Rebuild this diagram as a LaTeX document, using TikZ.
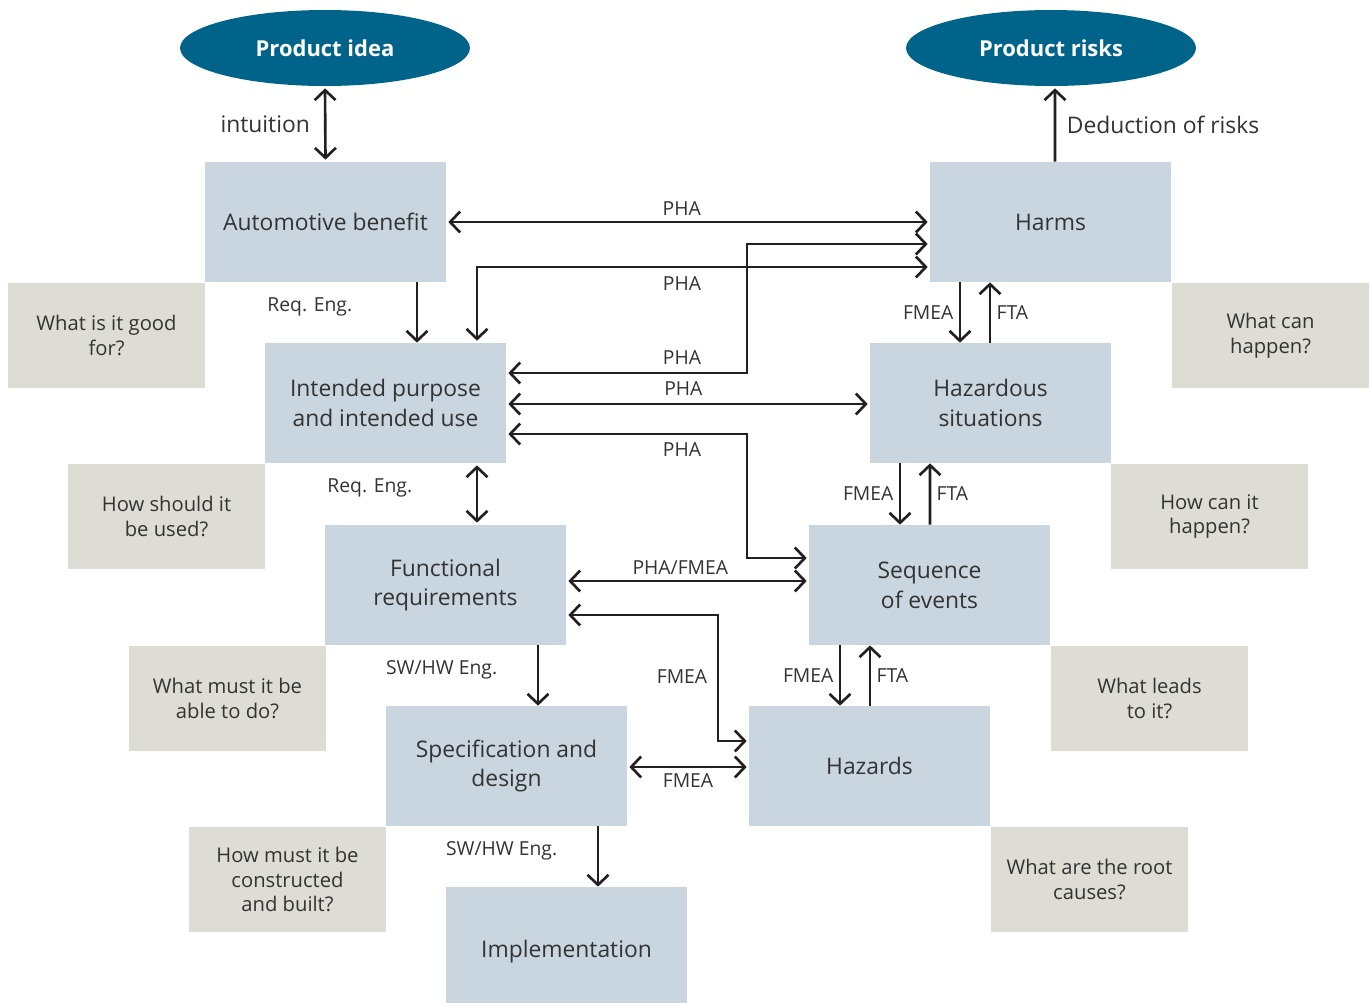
\documentclass[tikz,border=0pt]{standalone}
\usepackage{fontspec}
\setmainfont{Open Sans}
\usepackage{xcolor}
\usetikzlibrary{shapes,arrows,positioning,calc,arrows.meta}

\definecolor{boxblue}{HTML}{C9D6DF}
\definecolor{boxgrey}{HTML}{DDDDD5}
\definecolor{petrol}{HTML}{00648A}
\definecolor{textgrey}{HTML}{333333}
\definecolor{linegrey}{HTML}{231F20}

\begin{document}
\begin{tikzpicture}[x=0.02cm, y=-0.02cm,
    >={Straight Barb[length=0.2cm, width=0.42cm]},
    every node/.style={text=textgrey},
    stage/.style={fill=boxblue, minimum width=4.82cm, minimum height=2.4cm, align=center, inner sep=0pt, font=\fontsize{13}{17}\selectfont},
    question/.style={fill=boxgrey, minimum width=3.94cm, minimum height=2.1cm, align=center, inner sep=0pt, font=\fontsize{11.5}{14}\selectfont},
    goal/.style={ellipse, fill=petrol, minimum width=5.8cm, minimum height=1.52cm, text=white, font=\fontsize{12.5}{15}\selectfont\bfseries},
    link/.style={draw=linegrey, line width=1.5pt},
    tag/.style={font=\fontsize{11}{13}\selectfont, inner sep=2pt},
    bigtag/.style={font=\fontsize{13}{16}\selectfont, inner sep=2pt}]

    \useasboundingbox (0,0) rectangle (1372,1002);

    % goals
    \node[goal] (idea) at (325,48) {Product idea};
    \node[goal] (risks) at (1051,48) {Product risks};

    % development side
    \node[stage] (benefit) at (325.5,222) {Automotive benefit};
    \node[stage] (purpose) at (385.5,403) {Intended purpose\\and intended use};
    \node[stage] (funcreq) at (445.5,585) {Functional\\requirements};
    \node[stage] (spec) at (506.5,766) {Specification and\\design};
    \node[stage, minimum height=2.6cm] (impl) at (566.5,952) {Implementation};

    % risk side
    \node[stage] (harms) at (1050.5,222) {Harms};
    \node[stage] (hazsit) at (990.5,403) {Hazardous\\situations};
    \node[stage] (seq) at (929.5,585) {Sequence\\of events};
    \node[stage] (hazards) at (869.5,766) {Hazards};

    % questions
    \node[question] (qgood) at (106.5,335.5) {What is it good\\for?};
    \node[question] (qused) at (166.5,516.5) {How should it\\be used?};
    \node[question] (qable) at (227.5,698.5) {What must it be\\able to do?};
    \node[question] (qbuilt) at (287.5,879.5) {How must it be\\constructed\\and built?};
    \node[question] (qhappen) at (1270.5,335.5) {What can\\happen?};
    \node[question] (qhow) at (1209.5,516.5) {How can it\\happen?};
    \node[question] (qleads) at (1149.5,698.5) {What leads\\to it?};
    \node[question] (qroot) at (1089.5,879.5) {What are the root\\causes?};

    % vertical links
    \draw[link, <->] ($(idea.south)+(0,2)$) -- ($(benefit.north)+(0,-2)$) node[midway, bigtag, left=6pt] {intuition};
    \draw[link, ->] ($(harms.north)+(4.5,0)$) -- ($(risks.south)+(4,2)$) node[midway, bigtag, right=4pt] {Deduction of risks};
    \draw[link, ->] ($(benefit.south)+(91.5,0)$) -- ($(purpose.north)+(31.5,0)$) node[pos=0.4, tag, left=1.2cm] {Req. Eng.};
    \draw[link, <->] ($(purpose.south)+(91.5,2)$) -- ($(funcreq.north)+(31.5,-2)$) node[pos=0.4, tag, left=1.2cm] {Req. Eng.};
    \draw[link, ->] ($(funcreq.south)+(92.5,0)$) -- ($(spec.north)+(31.5,0)$) node[pos=0.4, tag, left=0.72cm] {SW/HW Eng.};
    \draw[link, ->] ($(spec.south)+(91.5,0)$) -- ($(impl.north)+(31.5,0)$) node[pos=0.4, tag, left=0.72cm] {SW/HW Eng.};

    % FMEA / FTA pairs
    \draw[link, ->] ($(harms.south)+(-90.5,0)$) -- ($(hazsit.north)+(-30.5,0)$) node[pos=0.5, tag, left=1pt] {FMEA};
    \draw[link, ->] ($(hazsit.north)+(-0.5,0)$) -- ($(harms.south)+(-60.5,0)$) node[pos=0.5, tag, right=1pt] {FTA};
    \draw[link, ->] ($(hazsit.south)+(-90.5,0)$) -- ($(seq.north)+(-29.5,0)$) node[pos=0.5, tag, left=1pt] {FMEA};
    \draw[link, ->] ($(seq.north)+(0.5,0)$) -- ($(hazsit.south)+(-60.5,0)$) node[pos=0.5, tag, right=1pt] {FTA};
    \draw[link, ->] ($(seq.south)+(-89.5,0)$) -- ($(hazards.north)+(-29.5,0)$) node[pos=0.5, tag, left=1pt] {FMEA};
    \draw[link, ->] ($(hazards.north)+(0.5,0)$) -- ($(seq.south)+(-59.5,0)$) node[pos=0.5, tag, right=1pt] {FTA};

    % horizontal links
    \draw[link, <->] ($(benefit.east)+(2,0)$) -- ($(harms.west)+(-2,0)$) node[pos=0.487, tag, above=1pt] {PHA};
    \draw[link, <->] ($(purpose.east)+(2,-30)$) -| (747,244) -- ($(harms.west)+(-2,22)$);
    \node[tag] (phab) at (682,358) {PHA};
    \draw[link, <->] ($(harms.west)+(-2,45)$) -| ($(purpose.north)+(91.5,-2)$);
    \node[tag] (phaa) at (682,284) {PHA};
    \draw[link, <->] ($(purpose.east)+(2,1)$) -- ($(hazsit.west)+(-2,1)$) node[pos=0.487, tag, above=2pt] {PHA};
    \draw[link, <->] ($(purpose.east)+(2,31)$) -| (747,558) -- ($(seq.west)+(-2,-27)$);
    \node[tag] (phac) at (682,450) {PHA};
    \draw[link, <->] ($(funcreq.east)+(2,-4)$) -- ($(seq.west)+(-2,-4)$) node[pos=0.47, tag, above=1pt] {PHA/FMEA};
    \draw[link, <->] ($(funcreq.east)+(2,30)$) -| (718,741) -- ($(hazards.west)+(-2,-25)$);
    \node[tag] (fmeaa) at (682,677) {FMEA};
    \draw[link, <->] ($(spec.east)+(2,1)$) -- ($(hazards.west)+(-2,1)$) node[midway, tag, below=1pt] {FMEA};
\end{tikzpicture}
\end{document}
